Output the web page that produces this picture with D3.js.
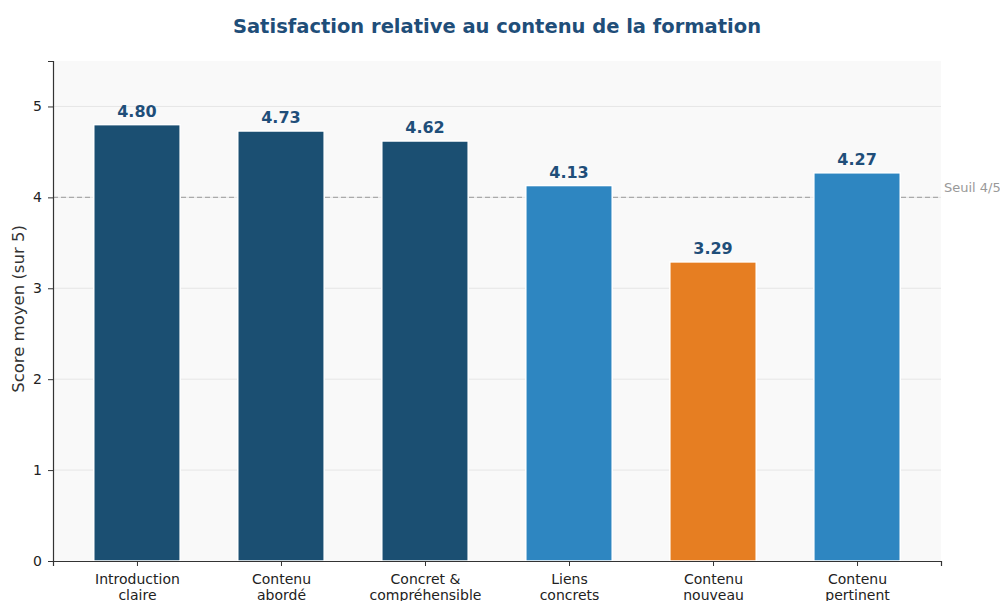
<!DOCTYPE html>
<html>
<head>
<meta charset="utf-8">
<script src="https://cdn.jsdelivr.net/npm/d3@7"></script>
<style>
  body { margin: 0; background: #fff; }
  text { font-family: "DejaVu Sans", sans-serif; }
</style>
</head>
<body>
<svg id="chart" width="1000" height="601"></svg>
<script>
const categories = [
  ['Introduction', 'claire'],
  ['Contenu', 'abordé'],
  ['Concret &', 'compréhensible'],
  ['Liens', 'concrets'],
  ['Contenu', 'nouveau'],
  ['Contenu', 'pertinent'],
];
const scores = [4.80, 4.73, 4.62, 4.13, 3.29, 4.27];
const barColors = ['#1b4f72', '#1b4f72', '#1b4f72', '#2e86c1', '#e67e22', '#2e86c1'];
const yTicks = [0, 1, 2, 3, 4, 5];
const threshold = 4;

const margin = { top: 61, right: 59, bottom: 40, left: 53 };
const width = 1000 - margin.left - margin.right;
const height = 601 - margin.top - margin.bottom;

const svg = d3.select('#chart');

svg.append('text')
  .attr('x', 497)
  .attr('y', 33)
  .attr('text-anchor', 'middle')
  .attr('font-size', 19.5)
  .attr('font-weight', 'bold')
  .attr('fill', '#1f4e79')
  .text('Satisfaction relative au contenu de la formation');

const g = svg.append('g')
  .attr('transform', `translate(${margin.left},${margin.top})`);

const x = d3.scaleLinear()
  .domain([-0.583, categories.length - 1 + 0.583])
  .range([0, width]);
const y = d3.scaleLinear()
  .domain([0, 5.5])
  .range([height, 0]);

const barW = x(0.6) - x(0);

// plot background
g.append('rect')
  .attr('width', width)
  .attr('height', height)
  .attr('fill', '#f9f9f9');

// grid
g.selectAll('.grid')
  .data(yTicks.filter((d) => d > 0))
  .enter().append('line')
  .attr('x1', 0)
  .attr('x2', width)
  .attr('y1', (d) => y(d))
  .attr('y2', (d) => y(d))
  .attr('stroke', '#e6e6e6')
  .attr('stroke-width', 1);

// threshold
g.append('line')
  .attr('x1', 0)
  .attr('x2', width)
  .attr('y1', y(threshold))
  .attr('y2', y(threshold))
  .attr('stroke', '#aaaaaa')
  .attr('stroke-width', 1.2)
  .attr('stroke-dasharray', '5,3');
g.append('text')
  .attr('x', width + 3)
  .attr('y', y(threshold) - 5)
  .attr('font-size', 13)
  .attr('fill', '#999')
  .text('Seuil 4/5');

// bars
g.selectAll('.bar')
  .data(scores)
  .enter().append('rect')
  .attr('class', 'bar')
  .attr('x', (d, i) => x(i) - barW / 2)
  .attr('width', barW)
  .attr('y', (d) => y(d))
  .attr('height', (d) => height - y(d))
  .attr('fill', (d, i) => barColors[i])
  .attr('stroke', '#fff')
  .attr('stroke-width', 1.5);

// value labels
g.selectAll('.val')
  .data(scores)
  .enter().append('text')
  .attr('x', (d, i) => x(i))
  .attr('y', (d) => y(d) - 8)
  .attr('text-anchor', 'middle')
  .attr('font-size', 16)
  .attr('font-weight', 'bold')
  .attr('fill', '#1f4e79')
  .text((d) => d.toFixed(2));

// y axis
const yAxis = g.append('g')
  .call(d3.axisLeft(y).tickValues(yTicks).tickFormat(d3.format('d')).tickSize(5).tickPadding(6));
yAxis.selectAll('text').attr('font-size', 14).attr('fill', '#222');
yAxis.select('.domain').attr('stroke', '#333').attr('stroke-width', 1.2);
yAxis.selectAll('.tick line').attr('stroke', '#333');

// x axis
const xAxis = g.append('g')
  .attr('transform', `translate(0,${height})`)
  .call(d3.axisBottom(x).tickValues(d3.range(categories.length)).tickSize(5).tickFormat(''));
xAxis.select('.domain').attr('stroke', '#333').attr('stroke-width', 1.2);
xAxis.selectAll('.tick line').attr('stroke', '#333');
xAxis.selectAll('.tick')
  .append('text')
  .attr('fill', '#222')
  .attr('font-size', 14)
  .attr('text-anchor', 'middle')
  .selectAll('tspan')
  .data((d) => categories[d])
  .enter().append('tspan')
  .attr('x', 0)
  .attr('y', (d, i) => 23 + i * 16)
  .text((d) => d);

// y label
svg.append('text')
  .attr('transform', `translate(24,${margin.top + height / 2 - 2}) rotate(-90)`)
  .attr('text-anchor', 'middle')
  .attr('font-size', 16.5)
  .attr('fill', '#333')
  .text('Score moyen (sur 5)');
</script>
</body>
</html>
